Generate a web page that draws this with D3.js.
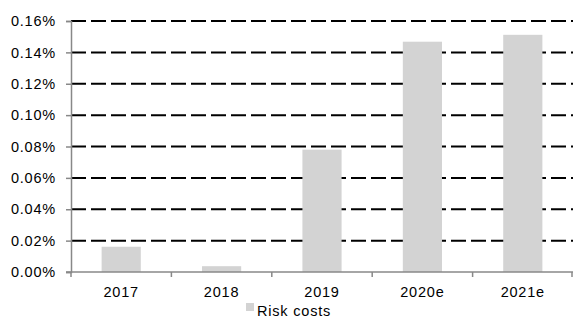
<!DOCTYPE html>
<html><head><meta charset="utf-8">
<script src="https://cdn.jsdelivr.net/npm/d3@7"></script>
<style>body{margin:0;background:#fff}svg{display:block}text{font-family:"Liberation Sans",Arial,sans-serif;fill:#000}</style>
</head><body><svg id="c" width="573" height="320"></svg>
<script>
const categories = ["2017","2018","2019","2020e","2021e"];
const riskCosts = [0.0161, 0.0037, 0.078, 0.1468, 0.1512];
const yTicks = [0,0.02,0.04,0.06,0.08,0.10,0.12,0.14,0.16];
const seriesName = "Risk costs";

const svg = d3.select("#c");
const m = {l:71, r:0, t:21, b:48};
const W = 573, H = 320;
const FS = 14.5, LS = "0.8px";
const x = d3.scaleBand().domain(categories).range([m.l, W - m.r]).paddingInner(0.61).paddingOuter(0.305);
const xb = d3.scaleBand().domain(categories).range([m.l, W - m.r]);
const y = d3.scaleLinear().domain([0,0.16]).range([272, 21]);

// gridlines
svg.append("g").selectAll("line").data(yTicks.slice(1)).join("line")
  .attr("x1", m.l).attr("x2", W).attr("y1", d=>y(d)).attr("y2", d=>y(d))
  .attr("stroke","#000").attr("stroke-width",2).attr("stroke-dasharray","15,5");

// bars
svg.append("g").selectAll("rect").data(riskCosts).join("rect")
  .attr("x",(d,i)=>x(categories[i])).attr("width",x.bandwidth())
  .attr("y",d=>y(d)).attr("height",d=>y(0)-y(d)).attr("fill","#d3d3d3");

// y axis
const ya = svg.append("g").attr("transform",`translate(${m.l},0)`)
  .call(d3.axisLeft(y).tickValues(yTicks).tickFormat(d=>d.toFixed(2)+"%").tickSize(5).tickPadding(10));
ya.select(".domain").attr("stroke","#888").attr("stroke-width",1.5);
ya.selectAll(".tick line").attr("stroke","#888").attr("stroke-width",1.5);
ya.selectAll("text").attr("font-size",FS).attr("fill","#000").style("letter-spacing",LS).style("font-family","'Liberation Sans',Arial,sans-serif");

// x axis
const xa = svg.append("g").attr("transform",`translate(0,${y(0)})`)
  .call(d3.axisBottom(xb).tickSize(0).tickPadding(15));
xa.select(".domain").remove();
xa.selectAll("text").attr("font-size",FS).attr("fill","#000").style("letter-spacing",LS).style("font-family","'Liberation Sans',Arial,sans-serif");
svg.append("line").attr("x1",m.l-5).attr("x2",W).attr("y1",y(0)).attr("y2",y(0)).attr("stroke","#888").attr("stroke-width",1.5);
const bounds = categories.map(c=>xb(c)).concat([W-1]);
svg.append("g").selectAll("line").data(bounds).join("line")
  .attr("x1",d=>d).attr("x2",d=>d).attr("y1",y(0)).attr("y2",y(0)+5)
  .attr("stroke","#888").attr("stroke-width",1.5);

// legend
const lg = svg.append("g").attr("transform","translate(246,303)");
lg.append("rect").attr("x",0).attr("y",0).attr("width",8).attr("height",8).attr("fill","#d3d3d3");
lg.append("text").attr("x",11).attr("y",13).attr("font-size",FS).style("letter-spacing",LS).text(seriesName);
</script></body></html>
